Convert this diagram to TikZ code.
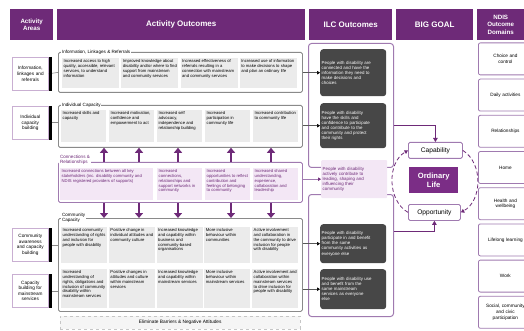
\documentclass[tikz,border=0pt]{standalone}
\usepackage{fontspec}
\setmainfont{Liberation Sans}
\usetikzlibrary{arrows.meta}
\definecolor{ilcpurple}{HTML}{6E2A78}
\definecolor{ilcline}{HTML}{A07AB0}
\definecolor{arealine}{HTML}{C9AFD2}
\definecolor{cellgray}{HTML}{EBEBEB}
\definecolor{conpurple}{HTML}{F3E7F5}
\definecolor{darkbox}{HTML}{474747}
\definecolor{panelgray}{HTML}{8A8A8A}
\definecolor{lifepurple}{HTML}{7B2D86}
\tikzset{
  head/.style={fill=ilcpurple, text=white, anchor=north west, align=center,
    minimum height=31pt, inner sep=1pt, font=\bfseries\fontsize{8}{9}\selectfont},
  smallhead/.style={head, font=\bfseries\fontsize{6.2}{7.2}\selectfont},
  areabox/.style={draw=arealine, line width=0.6pt, fill=white, anchor=north west,
    minimum width=36pt, minimum height=33pt, inner sep=0.5pt, text width=35pt,
    align=center, font=\fontsize{4.7}{5.6}\selectfont},
  bar/.style={line width=3pt, black},
  link/.style={draw=panelgray, line width=0.6pt},
  panel/.style={draw=panelgray, line width=0.8pt, rounded corners=1.5pt,
    anchor=north west, inner sep=0pt},
  ptitle/.style={fill=white, inner sep=0.8pt, anchor=west, align=left,
    font=\fontsize{4.6}{5.2}\selectfont},
  cell/.style 2 args={fill=cellgray, anchor=north west, inner sep=1.5pt,
    font=\fontsize{4.2}{4.8}\selectfont,
    execute at begin node={\begin{minipage}[t][#2][t]{#1}\raggedright},
    execute at end node={\end{minipage}}},
  concell/.style 2 args={cell={#1}{#2}, fill=conpurple, text=ilcpurple},
  bigarrow/.style={draw=ilcpurple, line width=2.2pt, -{Triangle[width=8pt,length=5pt]}},
  ilcframe/.style={draw=ilcline, line width=1pt, rounded corners=3pt,
    anchor=north west, minimum width=85pt, inner sep=0pt},
  ilcdark/.style={fill=darkbox, text=white, rounded corners=3pt, anchor=north west,
    minimum width=66pt, text width=63pt, inner sep=1.5pt, align=left,
    font=\fontsize{4.4}{5.1}\selectfont},
  ilclight/.style={ilcdark, fill=conpurple, text=ilcpurple, rounded corners=1pt},
  ilcarrow/.style={draw=gray!70!black, line width=0.6pt,
    -{Triangle[black,length=3pt,width=3.5pt]}},
  conarrow/.style={draw=ilcline, line width=0.6pt, -{Triangle[ilcpurple,length=3pt,width=3.5pt]}},
  goalarrow/.style={draw=ilcpurple, line width=0.8pt, -{Triangle[length=4pt,width=4.5pt]}},
  goalbox/.style={draw=ilcline, line width=0.8pt, fill=white, rounded corners=1.5pt,
    anchor=north west, inner sep=0pt, font=\fontsize{6.6}{7.5}\selectfont},
  lifebox/.style={fill=lifepurple, text=white, anchor=north west, align=center,
    minimum width=49pt, minimum height=26pt, inner sep=0pt,
    font=\bfseries\fontsize{7.6}{9}\selectfont},
  ring/.style={draw=ilcpurple, line width=0.8pt, dash pattern=on 4pt off 2.5pt,
    -{Triangle[length=3.5pt,width=4pt]}},
  domainbox/.style={draw=ilcline, line width=0.8pt, rounded corners=2pt, fill=white,
    anchor=north west, minimum width=54pt, minimum height=32pt, text width=50pt,
    inner sep=1pt, align=center, font=\fontsize{4.7}{5.6}\selectfont},
  barrier/.style={draw=gray!45, dashed, fill=gray!8, anchor=north west, inner sep=0pt,
    font=\fontsize{4.8}{5.5}\selectfont}
}
\begin{document}
\begin{tikzpicture}[x=1pt, y=-1pt]
  \useasboundingbox (0,0) rectangle (524,331);
  \clip (0,0) rectangle (524,331);

  % column headers
  \node[smallhead, minimum width=43pt] (hareas) at (10,9) {Activity\\Areas};
  \node[head, minimum width=248pt] (hout) at (57,9) {Activity Outcomes};
  \node[head, minimum width=83pt] (hilc) at (309,9) {ILC Outcomes};
  \node[head, minimum width=77pt] (hgoal) at (396,9) {BIG GOAL};
  \node[smallhead, minimum width=47pt] (hndis) at (477,9) {NDIS\\Outcome\\Domains};

  % activity outcome panels
  \node[panel, minimum width=244pt, minimum height=40pt] (info) at (58,52) {};
  \node[panel, minimum width=244pt, minimum height=42pt] (ind) at (58,105) {};
  \node[panel, draw=ilcline, minimum width=244pt, minimum height=40pt] (con) at (58,162) {};
  \node[panel, minimum width=244pt, minimum height=93pt] (com) at (58,218) {};
  \node[ptitle] (infot) at ([xshift=3pt]info.north west) {Information, Linkages \& Referrals};
  \node[ptitle] (indt) at ([xshift=3pt]ind.north west) {Individual Capacity};
  \node[ptitle, text=ilcpurple] (cont) at ([shift={(1pt,2pt)}]con.north west) {Connections \&\\Relationships};
  \node[ptitle] (comt) at ([xshift=3pt]com.north west) {Community\\Capacity};

  % activity areas
  \node[areabox] (a1) at (12,57) {Information,\\linkages and\\referrals};
  \node[areabox] (a2) at (12,106) {Individual\\capacity\\building};
  \node[areabox] (a3) at (12,228) {Community\\awareness\\and capacity\\building};
  \node[areabox] (a4) at (12,274) {Capacity\\building for\\mainstream\\services};
  \draw[link] (a1.east) -- (info.west);
  \draw[link] (a2.east) -- (a2.east -| ind.west);
  \draw[link] (a3.east) -- (a3.east -| com.west);
  \draw[link] (a4.east) -- (a4.east -| com.west);
  \foreach \a in {a1,a2,a3,a4}
    \draw[bar] ([xshift=1.5pt]\a.north east) -- ([xshift=1.5pt]\a.south east);

  % cells
  \foreach \t [count=\i] in {
      {Increased access to high quality, accessible, relevant services, to understand information},
      {Improved knowledge about disability and/or where to find support from mainstream and community services},
      {Increased effectiveness of referrals resulting in a connection with mainstream and community services},
      {Increased use of information to make decisions to shape and plan an ordinary life}}
    \node[cell={54pt}{27pt}] (i\i) at ({62+59.2*(\i-1)},58) {\t};
  \foreach \t [count=\i] in {
      {Increased skills and capacity},
      {Increased motivation, confidence and empowerment to act},
      {Increased self advocacy, independence and relationship building},
      {Increased participation in community life},
      {Increased contribution to community life}}
    \node[cell={42pt}{29pt}] (c\i) at ({61+48*(\i-1)},110) {\t};
  \node[concell={90pt}{29pt}] (r1) at (60,168) {Increased connections between all key stakeholders (inc. disability community and NDIS registered providers of supports)};
  \foreach \t [count=\i from 2] in {
      {Increased connections, relationships and support networks in community},
      {Increased opportunities to reflect contribution and feelings of belonging to community},
      {Increased shared understanding, experience, collaboration and leadership}}
    \node[concell={42pt}{29pt}] (r\i) at ({157+48*(\i-2)},168) {\t};
  \foreach \t [count=\i] in {
      {Increased community understanding of rights and inclusion for people with disability},
      {Positive change in individual attitudes and community culture},
      {Increased knowledge and capability within business and community-based organisations},
      {More inclusive behaviour within communities},
      {Active involvement and collaboration in the community to drive inclusion for people with disability}}
    \node[cell={43pt}{33pt}] (m\i) at ({61+47.75*(\i-1)},227) {\t};
  \foreach \t [count=\i] in {
      {Increased understanding of rights, obligations and inclusion of community disability within mainstream services},
      {Positive changes in attitudes and culture within mainstream services},
      {Increased knowledge and capability within mainstream services},
      {More inclusive behaviour within mainstream services},
      {Active involvement and collaboration within mainstream services to drive inclusion for people with disability}}
    \node[cell={43pt}{36pt}] (s\i) at ({61+47.75*(\i-1)},269) {\t};
  \node[barrier, minimum width=240pt, minimum height=13pt] (elim) at (60,316) {Eliminate Barriers \& Negative Attitudes};

  % connections feed both ways
  \foreach \x in {104,139,178,231,271} {
    \draw[bigarrow] (con.north -| \x,0) -- (ind.south -| \x,0);
    \draw[bigarrow] (con.south -| \x,0) -- (com.north -| \x,0);
  }

  % ILC outcomes
  \node[ilcframe, minimum height=124pt] (ilctop) at (308,43) {};
  \node[ilcframe, minimum height=122pt] (ilcbot) at (308,194) {};
  \node[ilcdark, minimum height=47pt] (o1) at (320,49) {People with disability are\\connected and have the\\information they need to\\make decisions and\\choices};
  \node[ilcdark, minimum height=45pt] (o2) at (320,103) {People with disability\\have the skills and\\confidence to participate\\and contribute to the\\community and protect\\their rights};
  \node[ilclight, minimum width=64pt, minimum height=38pt] (o3) at (321,160) {People with disability\\actively contribute to\\leading, shaping and\\influencing their\\community};
  \node[ilcdark, minimum height=39pt] (o4) at (320,224) {People with disability\\participate in and benefit\\from the same\\community activities as\\everyone else};
  \node[ilcdark, minimum height=40pt] (o5) at (320,269) {People with disability use\\and benefit from the\\same mainstream\\services as everyone\\else};
  \draw[ilcarrow] (o1.west -| info.east) -- (o1.west);
  \draw[ilcarrow] (o2.west -| ind.east) -- (o2.west);
  \draw[conarrow] (o3.west -| con.east) -- (o3.west);
  \draw[ilcarrow] (o4.west -| com.east) -- (o4.west);
  \draw[ilcarrow] (o5.west -| com.east) -- (o5.west);

  % big goal
  \node[goalbox, minimum width=54pt, minimum height=16pt] (cap) at (408,142) {Capability};
  \node[lifebox] (life) at (409,167) {Ordinary\\Life};
  \node[goalbox, minimum width=52pt, minimum height=16pt] (opp) at (408,204) {Opportunity};
  \draw[goalarrow] (ilctop.east |- 0,125) -| (cap.north);
  \draw[goalarrow] (ilcbot.east |- 0,231) -| (opp.south);
  \draw[ring] (opp.west) to[bend left=60] (cap.west);
  \draw[ring] (cap.east) to[bend left=60] (opp.east);

  % NDIS outcome domains
  \foreach \d [count=\i from 0] in {{Choice and\\control}, Daily activities, Relationships, Home,
      {Health and\\wellbeing}, Lifelong learning, Work, {Social, community\\and civic\\participation}}
    \node[domainbox] (d\i) at (478,{42.5+36.2*\i}) {\d};
\end{tikzpicture}
\end{document}
